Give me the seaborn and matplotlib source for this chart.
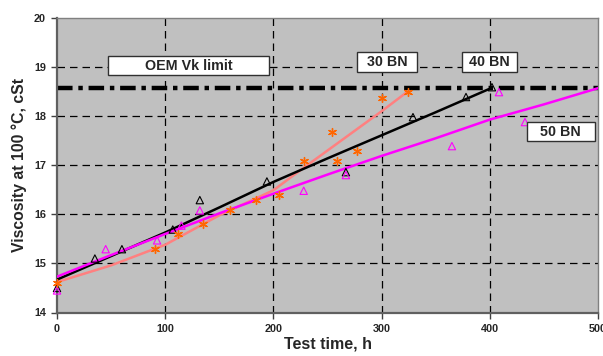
import matplotlib
matplotlib.use("Agg")
import matplotlib.pyplot as plt
import seaborn as sns

# Measured viscosity (cSt at 100 °C) versus test time (h) for three oil grades
bn30_time = [0, 90.6, 111.5, 135, 160, 183.6, 205, 228, 254, 258.5, 277, 300, 324]
bn30_visc = [14.6, 15.29, 15.6, 15.81, 16.08, 16.3, 16.39, 17.09, 17.68, 17.09, 17.29, 18.38, 18.5]

bn40_time = [0, 35, 60, 107, 132, 194, 267, 329, 378, 402]
bn40_visc = [14.5, 15.1, 15.29, 15.69, 16.29, 16.67, 16.86, 17.98, 18.39, 18.59]

bn50_time = [0, 45, 92.5, 115, 132, 228, 267, 365, 408.5, 432.5]
bn50_visc = [14.45, 15.29, 15.47, 15.77, 16.08, 16.48, 16.8, 17.39, 18.49, 17.88]

# Trend curves
bn30_trend_time = [0, 50, 100, 150, 200, 225, 250, 300, 324]
bn30_trend_visc = [14.62, 14.96, 15.38, 15.98, 16.49, 16.9, 17.3, 18.1, 18.5]

bn40_trend_time = [0, 50, 100, 150, 200, 250, 300, 350, 399]
bn40_trend_visc = [14.67, 15.15, 15.63, 16.14, 16.66, 17.14, 17.61, 18.08, 18.55]

bn50_trend_time = [0, 50, 100, 150, 200, 250, 300, 350, 400, 450, 500]
bn50_trend_visc = [14.73, 15.17, 15.60, 16.02, 16.42, 16.81, 17.19, 17.55, 17.93, 18.24, 18.57]

oem_limit = 18.57
x_ticks = [0, 100, 200, 300, 400, 500]
y_ticks = [14, 15, 16, 17, 18, 19, 20]

sns.set_style("ticks")
plt.rcParams["font.family"] = ["Liberation Sans", "DejaVu Sans"]
plt.rcParams["font.weight"] = "bold"

fig = plt.figure(figsize=(6.03, 3.56), dpi=100)
ax = fig.add_axes([57 / 603, 1 - 312.5 / 356, 541 / 603, 294.5 / 356])
ax.set_facecolor("#C0C0C0")

ax.set_xlim(0, 500)
ax.set_ylim(14, 20)
ax.set_xticks(x_ticks)
ax.set_yticks(y_ticks)
ax.tick_params(axis="both", labelsize=7.8, length=4, width=1, color="#404040", pad=4)
for lab in ax.get_xticklabels() + ax.get_yticklabels():
    lab.set_fontweight("bold")

for s in ["top", "right"]:
    ax.spines[s].set_color("#808080")
    ax.spines[s].set_linewidth(1.0)
for s in ["left", "bottom"]:
    ax.spines[s].set_color("#606060")
    ax.spines[s].set_linewidth(1.6)

# Dashed grid
for xv in x_ticks[1:-1]:
    ax.axvline(xv, color="black", lw=0.9, ls=(0, (6, 4)), zorder=1)
for yv in y_ticks[1:-1]:
    ax.axhline(yv, color="black", lw=0.9, ls=(0, (6, 4)), zorder=1)

# OEM viscosity limit
ax.axhline(oem_limit, color="black", lw=3.2, ls=(0, (3.5, 1.3, 1, 1.3)), zorder=2)

# Trend lines
sns.lineplot(x=bn30_trend_time, y=bn30_trend_visc, ax=ax, color="#FF8080", lw=1.8, zorder=3)
sns.lineplot(x=bn40_trend_time, y=bn40_trend_visc, ax=ax, color="black", lw=1.8, zorder=3)
sns.lineplot(x=bn50_trend_time, y=bn50_trend_visc, ax=ax, color="#FF00FF", lw=1.8, zorder=3)

# Measured points
sns.scatterplot(x=bn40_time, y=bn40_visc, ax=ax, marker="^", facecolors="none",
                edgecolor="black", s=28, linewidth=0.8, zorder=4, clip_on=False)
sns.scatterplot(x=bn50_time, y=bn50_visc, ax=ax, marker="^", facecolors="none",
                edgecolor="#FF00FF", s=28, linewidth=0.8, zorder=4, clip_on=False)
sns.scatterplot(x=bn30_time, y=bn30_visc, ax=ax, marker=(6, 2, 0), color="#FF6600",
                edgecolor="#FF6600", s=32, linewidth=1.0, zorder=5, clip_on=False)

ax.set_xlabel("Test time, h", fontsize=11.5, fontweight="bold", labelpad=2)
ax.set_ylabel("Viscosity at 100 °C, cSt", fontsize=11.3, fontweight="bold", labelpad=5)


def label_box(x0, x1, y0, y1, text):
    ax.add_patch(plt.Rectangle((x0, y0), x1 - x0, y1 - y0, facecolor="white",
                               edgecolor="#303030", lw=1.0, zorder=6))
    ax.text((x0 + x1) / 2, (y0 + y1) / 2, text, ha="center", va="center",
            fontsize=10.3, fontweight="bold", zorder=7)


label_box(47, 196, 18.83, 19.22, "OEM Vk limit")
label_box(277, 333, 18.90, 19.31, "30 BN")
label_box(374, 425, 18.90, 19.31, "40 BN")
label_box(434, 497, 17.49, 17.88, "50 BN")

fig.savefig("out.png", dpi=100)
